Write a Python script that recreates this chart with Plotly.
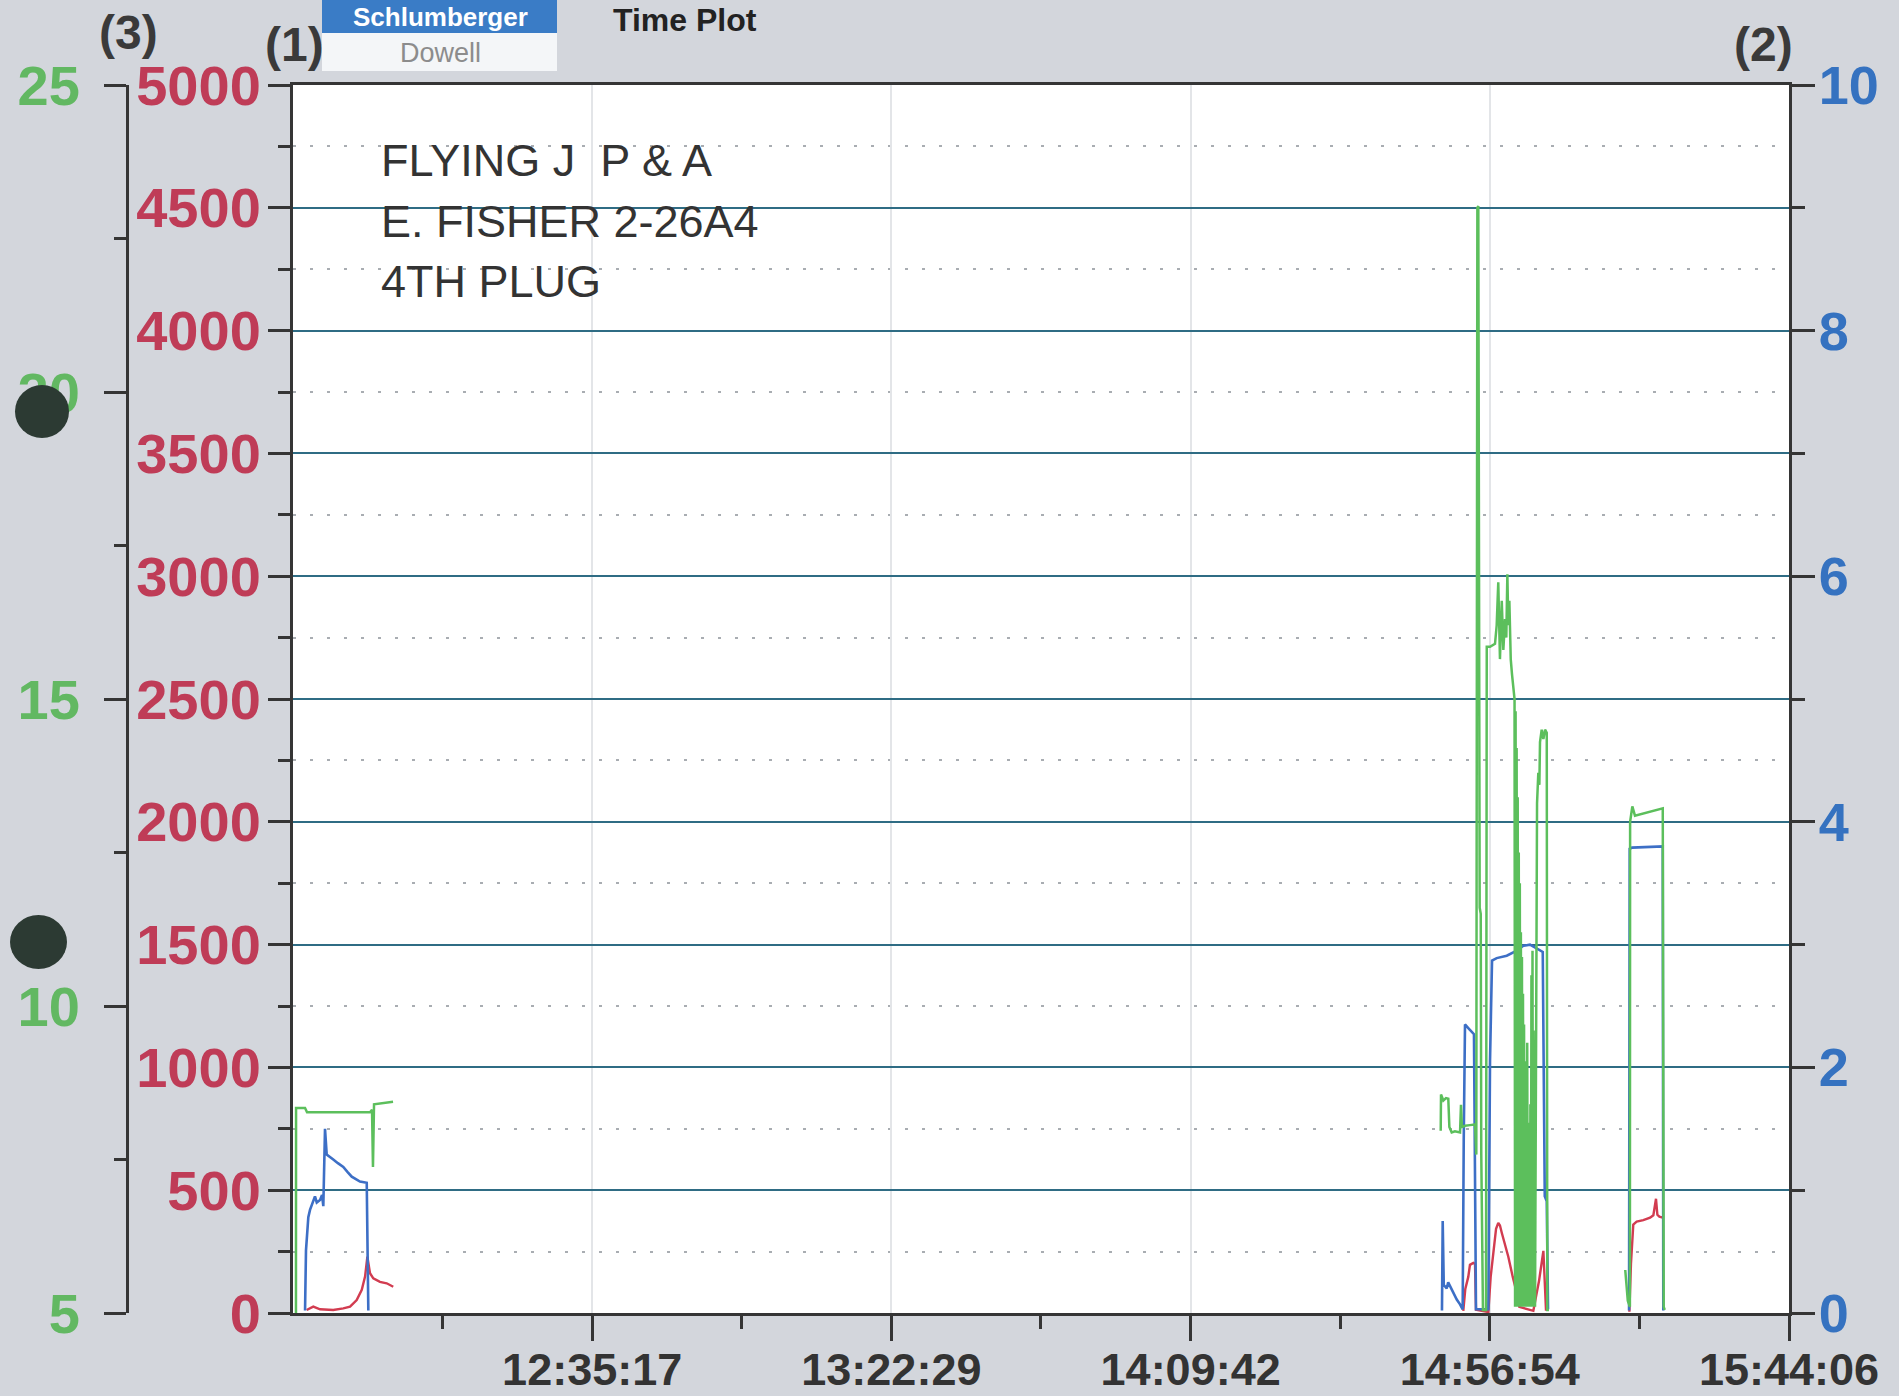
import pandas as pd
import plotly.graph_objects as go

# ---------------------------------------------------------------- data
JOB_DATE = "2000-01-01 "

# Density (ppg) - axis (3)
dens_time = [
    "11:48:33", "11:48:34", "11:49:59", "11:50:18", "12:00:14", "12:00:33", "12:00:42",
    "12:00:52", "12:03:52", "12:03:53",
    "14:49:09", "14:49:12", "14:49:34", "14:49:59", "14:50:21", "14:50:31", "14:50:53",
    "14:51:24", "14:52:12", "14:52:21", "14:52:30", "14:52:59", "14:53:46", "14:54:34",
    "14:54:46", "14:54:56", "14:55:05", "14:55:18", "14:55:28", "14:55:33", "14:55:49",
    "14:56:18", "14:56:25", "14:56:56", "14:57:43", "14:57:59", "14:58:14", "14:58:30",
    "14:58:47", "14:59:02", "14:59:18", "14:59:30", "14:59:40", "14:59:49", "14:59:59",
    "15:00:12", "15:00:24", "15:00:36", "15:00:48",
    "15:00:53", "15:00:58", "15:01:03", "15:01:08", "15:01:13", "15:01:18", "15:01:23",
    "15:01:28", "15:01:33", "15:01:38", "15:01:43", "15:01:48", "15:01:53", "15:01:58",
    "15:02:03", "15:02:08", "15:02:13", "15:02:18", "15:02:23", "15:02:28", "15:02:33",
    "15:02:38", "15:02:43", "15:02:48", "15:02:53", "15:02:58", "15:03:03", "15:03:08",
    "15:03:13", "15:03:18", "15:03:23", "15:03:28", "15:03:33", "15:03:38", "15:03:43",
    "15:03:48", "15:03:53", "15:03:58", "15:04:02",
    "15:04:08", "15:04:14", "15:04:21", "15:04:33", "15:04:43", "15:04:49", "15:05:05",
    "15:05:21", "15:05:37", "15:05:53", "15:05:58", "15:06:14", "15:06:15",
    "15:18:16", "15:18:40", "15:19:00", "15:19:02", "15:19:23", "15:19:48", "15:24:11",
    "15:24:20", "15:24:30",
]
dens_ppg = [
    5.0, 8.34, 8.34, 8.27, 8.27, 8.31, 7.38, 8.40, 8.44, None,
    7.97, 8.56, 8.46, 8.50, 8.49, 8.03, 7.94, 7.96, 7.94, 8.39, 8.03, 8.05, 8.06, 8.07,
    7.58, 23.0, 23.03, 11.6, 11.5, 7.6, 5.05, 5.05, 15.85, 15.85, 15.9, 16.2, 16.9, 15.65,
    16.6, 15.8, 16.3, 16.0, 17.03, 16.2, 16.6, 15.65, 15.4, 15.16, 15.0,
    5.1, 14.8, 5.2, 14.2, 5.1, 13.4, 5.3, 12.5, 5.1, 12.0, 5.2, 11.2, 5.1, 10.8,
    5.2, 10.2, 5.1, 9.7, 5.3, 9.1, 5.1, 8.7, 5.2, 9.4, 5.1, 8.1, 5.2, 7.9,
    5.1, 8.4, 5.2, 10.5, 5.1, 10.9, 5.2, 9.6, 5.1, 8.3, 5.1,
    8.0, 12.2, 13.3, 13.8, 13.6, 14.3, 14.5, 14.35, 14.5, 14.45, 5.05, 5.05, None,
    5.7, 5.2, 5.1, 13.0, 13.25, 13.1, 13.22, 5.1, 5.05,
]

# Rate (bpm) - axis (2)
rate_time = [
    "11:49:59", "11:50:08", "11:50:30", "11:50:46", "11:51:33", "11:51:50", "11:52:21",
    "11:52:40", "11:52:52", "11:53:08", "11:53:24", "11:53:50", "11:54:26", "11:55:10",
    "11:56:01", "11:56:40", "11:57:21", "11:58:00", "11:58:39", "11:59:43", "11:59:58",
    "12:00:00",
    "14:49:21", "14:49:28", "14:49:38", "14:50:06", "14:50:20", "14:50:37", "14:51:09",
    "14:51:41", "14:52:12", "14:52:37", "14:52:47", "14:52:59", "14:53:30", "14:54:12",
    "14:54:24", "14:54:43", "14:56:40", "14:56:56", "14:57:15", "14:57:59", "14:59:34",
    "15:01:09", "15:02:11", "15:03:14", "15:04:18", "15:05:15", "15:05:34", "15:05:53",
    "15:06:05", "15:06:06",
    "15:18:52", "15:18:58", "15:19:20", "15:24:11", "15:24:16",
]
rate_bpm = [
    0.02, 0.51, 0.78, 0.84, 0.95, 0.90, 0.92, 0.96, 0.87, 1.50, 1.29, 1.27, 1.25, 1.22,
    1.19, 1.15, 1.11, 1.09, 1.07, 1.06, 0.02, None,
    0.02, 0.75, 0.23, 0.20, 0.25, 0.22, 0.16, 0.11, 0.07, 0.03, 1.40, 2.35, 2.32, 2.28,
    2.27, 0.03, 0.03, 2.06, 2.87, 2.89, 2.91, 2.95, 2.99, 3.00, 2.97, 2.94, 0.95, 0.91,
    0.03, None,
    0.02, 3.78, 3.79, 3.80, 0.02,
]

# Treating pressure (psi) - axis (1)
pres_time = [
    "11:50:14", "11:51:17", "11:52:21", "11:54:26", "11:56:01", "11:57:05", "11:58:08",
    "11:58:56", "11:59:27", "11:59:49", "12:00:14", "12:00:45", "12:01:48", "12:02:52",
    "12:03:54", "12:03:55",
    "14:52:43", "14:53:02", "14:53:30", "14:53:46", "14:54:18", "14:54:34", "14:54:43",
    "14:56:40", "14:57:02", "14:57:27", "14:57:53", "14:58:14", "14:58:30", "14:58:47",
    "14:59:18", "14:59:49", "15:00:31", "15:01:09", "15:01:33", "15:03:46", "15:04:11",
    "15:04:40", "15:05:21", "15:05:34", "15:05:46", "15:05:47",
    "15:18:55", "15:19:10", "15:19:32", "15:20:04", "15:21:07", "15:22:11", "15:22:42",
    "15:23:07", "15:23:20", "15:23:39", "15:24:11",
]
pres_psi = [
    12, 26, 15, 12, 19, 26, 53, 94, 148, 229, 162, 141, 127, 121, 107, None,
    9, 98, 147, 196, 204, 200, 13, 4, 147, 245, 343, 367, 356, 327, 278, 229, 147, 82,
    25, 9, 66, 131, 253, 131, 9, None,
    5, 200, 360, 372, 378, 388, 398, 465, 400, 392, 388,
]

# Axis ticks
time_ticks = ["12:35:17", "13:22:29", "14:09:42", "14:56:54", "15:44:06"]
time_minor = ["12:11:41", "12:58:53", "13:46:05", "14:33:18", "15:20:30"]
time_range = ["11:48:05", "15:44:06"]
pres_ticks = [0, 500, 1000, 1500, 2000, 2500, 3000, 3500, 4000, 4500, 5000]
rate_ticks = [0, 2, 4, 6, 8, 10]
dens_ticks = [5, 10, 15, 20, 25]
header_lines = ["FLYING J&nbsp; P & A", "E. FISHER 2-26A4", "4TH PLUG"]

# ---------------------------------------------------------------- styling
W, H = 1899, 1396
ML, MR, MT, MB = 100, 110, 85, 83
PW = W - ML - MR
PH = H - MT - MB


def px(x):
    return (x - ML) / PW


def py(y):
    return (H - MB - y) / PH


def ts(values):
    return [pd.Timestamp(JOB_DATE + v) for v in values]


FONT = "Liberation Sans, Arial, sans-serif"
AX = "#353535"
GREEN_LINE = "#5cbf5c"
BLUE_LINE = "#3d6fc6"
RED_LINE = "#d23c50"
GREEN_LBL = "#62b862"
BLUE_LBL = "#3572c0"
RED_LBL = "#bf3c57"
GRID = "#2f6c84"
PAPER = "#d3d6dc"

fig = go.Figure()
fig.add_trace(go.Scatter(x=ts(pres_time), y=pres_psi, mode="lines", yaxis="y",
                         line=dict(color=RED_LINE, width=2.4), connectgaps=False,
                         hoverinfo="skip"))
fig.add_trace(go.Scatter(x=ts(rate_time), y=rate_bpm, mode="lines", yaxis="y2",
                         line=dict(color=BLUE_LINE, width=2.6), connectgaps=False,
                         hoverinfo="skip"))
fig.add_trace(go.Scatter(x=ts(dens_time), y=dens_ppg, mode="lines", yaxis="y3",
                         line=dict(color=GREEN_LINE, width=2.5), connectgaps=False,
                         hoverinfo="skip"))

tick_common = dict(ticks="outside", tickwidth=2.5, tickcolor=AX, showline=True,
                   linecolor=AX, linewidth=3, zeroline=False, automargin=False)

fig.update_layout(
    width=W, height=H,
    margin=dict(l=ML, r=MR, t=MT, b=MB, pad=0, autoexpand=False),
    paper_bgcolor=PAPER, plot_bgcolor="white",
    showlegend=False,
    xaxis=dict(
        type="date", domain=[px(293), 1], range=ts(time_range),
        tickmode="array", tickvals=ts(time_ticks), ticktext=time_ticks,
        ticklen=25, mirror=True, showgrid=True, gridcolor="#e3e5e8", gridwidth=1.5,
        tickfont=dict(family=FONT, size=45, color="#333333", weight="bold"),
        ticklabelstandoff=-10,
        minor=dict(tickmode="array", tickvals=ts(time_minor), ticklen=13,
                   tickwidth=2.5, tickcolor=AX, showgrid=False),
        **tick_common,
    ),
    yaxis=dict(
        range=[0, 5000], tickmode="array", tickvals=pres_ticks,
        ticktext=[str(v) for v in pres_ticks], ticklen=22,
        showgrid=True, gridcolor=GRID, gridwidth=2,
        tickfont=dict(family=FONT, size=56, color=RED_LBL, weight="bold"),
        ticklabelstandoff=-4,
        minor=dict(dtick=250, tick0=0, ticklen=12, tickwidth=2.5, tickcolor=AX,
                   showgrid=True, gridcolor="#a9adb2", gridwidth=1.5,
                   griddash="3px,14px"),
        **tick_common,
    ),
    yaxis2=dict(
        overlaying="y", side="right", anchor="x", range=[0, 10],
        tickmode="array", tickvals=rate_ticks, ticktext=[str(v) for v in rate_ticks],
        ticklen=23, showgrid=False,
        tickfont=dict(family=FONT, size=54, color=BLUE_LBL, weight="bold"),
        ticklabelstandoff=-7,
        minor=dict(dtick=1, tick0=0, ticklen=13, tickwidth=2.5, tickcolor=AX,
                   showgrid=False),
        **tick_common,
    ),
    yaxis3=dict(
        overlaying="y", side="left", anchor="free", position=px(127), range=[5, 25],
        tickmode="array", tickvals=dens_ticks, ticktext=[str(v) for v in dens_ticks],
        ticklen=22, showgrid=False,
        tickfont=dict(family=FONT, size=56, color=GREEN_LBL, weight="bold"),
        ticklabelstandoff=13,
        minor=dict(dtick=2.5, tick0=5, ticklen=12, tickwidth=2.5, tickcolor=AX,
                   showgrid=False),
        **tick_common,
    ),
)

# logo block and punched-hole marks
shapes = [
    dict(type="rect", xref="paper", yref="paper", x0=px(322), x1=px(557),
         y0=py(33), y1=py(-5), fillcolor="#3a7cc6", line=dict(width=0)),
    dict(type="rect", xref="paper", yref="paper", x0=px(322), x1=px(557),
         y0=py(71), y1=py(33), fillcolor="#f4f6f8", line=dict(width=0)),
    dict(type="circle", xref="paper", yref="paper", x0=px(15), x1=px(69),
         y0=py(438), y1=py(385), fillcolor="#2c3a33", line=dict(width=0),
         layer="above"),
    dict(type="circle", xref="paper", yref="paper", x0=px(10), x1=px(67),
         y0=py(969), y1=py(915), fillcolor="#2c3a33", line=dict(width=0),
         layer="above"),
]
fig.update_layout(shapes=shapes)


def label(text, x, y, size, color, bold=True, xanchor="center"):
    fig.add_annotation(text=text, xref="paper", yref="paper", x=px(x), y=py(y),
                       xanchor=xanchor, yanchor="middle", showarrow=False,
                       font=dict(family=FONT, size=size, color=color,
                                 weight="bold" if bold else "normal"))


label("(3)", 128, 33, 48, "#3a3a3a")
label("(1)", 294, 45, 48, "#3a3a3a")
label("(2)", 1763, 45, 48, "#3a3a3a")
label("Schlumberger", 440, 17, 26, "white")
label("Dowell", 440, 53, 27, "#8c8c8c", bold=False)
label("Time Plot", 685, 20, 32, "#222222")

for i, line in enumerate(header_lines):
    label(line, 379, 160 + 61 * i, 45, "#333333", bold=False, xanchor="left")

fig.write_html("out.html")
